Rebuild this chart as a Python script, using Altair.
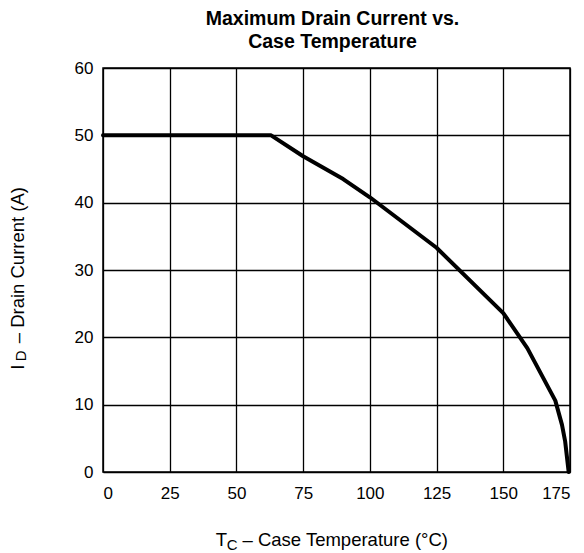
import altair as alt
import pandas as pd

temp_c = [0, 63, 75, 90, 100, 125, 150, 159, 169.5, 172, 173.2, 174.5]
drain_a = [50, 50, 46.9, 43.5, 40.8, 33.3, 23.6, 18.4, 10.6, 7.0, 4.5, 0]
x_ticks = [0, 25, 50, 75, 100, 125, 150, 175]
y_ticks = [0, 10, 20, 30, 40, 50, 60]

df = pd.DataFrame({"t": temp_c, "i": drain_a})
FONT = "Liberation Sans"
W, H = 467, 404

line = alt.Chart(df).mark_line(color="black", strokeWidth=4, strokeCap="round", strokeJoin="round").encode(
    x=alt.X("t:Q", scale=alt.Scale(domain=[0, 175], nice=False, zero=False),
            axis=alt.Axis(values=x_ticks, title=None, grid=True, ticks=False, domain=False,
                          labelPadding=13, labelFontSize=17, labelFont=FONT, labelColor="black",
                          gridColor="black", gridWidth=1.3, gridOpacity=1)),
    y=alt.Y("i:Q", scale=alt.Scale(domain=[0, 60], nice=False),
            axis=alt.Axis(values=y_ticks, title=None, grid=True, ticks=False, domain=False,
                          labelPadding=10, labelFontSize=17, labelFont=FONT, labelColor="black",
                          gridColor="black", gridWidth=1.3, gridOpacity=1)),
)

one = alt.Data(values=[{"a": 1}])

def txt(s, x, y, size, angle=0):
    return alt.Chart(one).mark_text(text=s, font=FONT, fontSize=size, color="black", align="left",
                                    baseline="alphabetic", angle=angle).encode(
        x=alt.value(x), y=alt.value(y))

xt = [
    txt("T", 112.7, 478.3, 18.5),
    txt("C", 123.8, 481.6, 15),
    txt("– Case Temperature (°C)", 139.5, 478.3, 18.5),
]
yt = [
    txt("I", -79.3, 301.8, 18.5, angle=270),
    txt("D", -76.6, 293.3, 15, angle=270),
    txt("– Drain Current (A)", -79.3, 275.3, 18.5, angle=270),
]

chart = alt.layer(line, *xt, *yt).properties(
    width=W, height=H,
    autosize=alt.AutoSizeParams(type="none"),
    padding={"left": 95, "top": 60, "right": 6, "bottom": 81},
    title=alt.TitleParams(["Maximum Drain Current vs.", "Case Temperature"], font=FONT, fontSize=19.5,
                          fontWeight="bold", color="black", anchor="middle", offset=7, lineHeight=23, dx=-4),
).configure_view(stroke="black", strokeWidth=1.5)

chart.save("out.html", embed_options={"renderer": "svg", "actions": False})
